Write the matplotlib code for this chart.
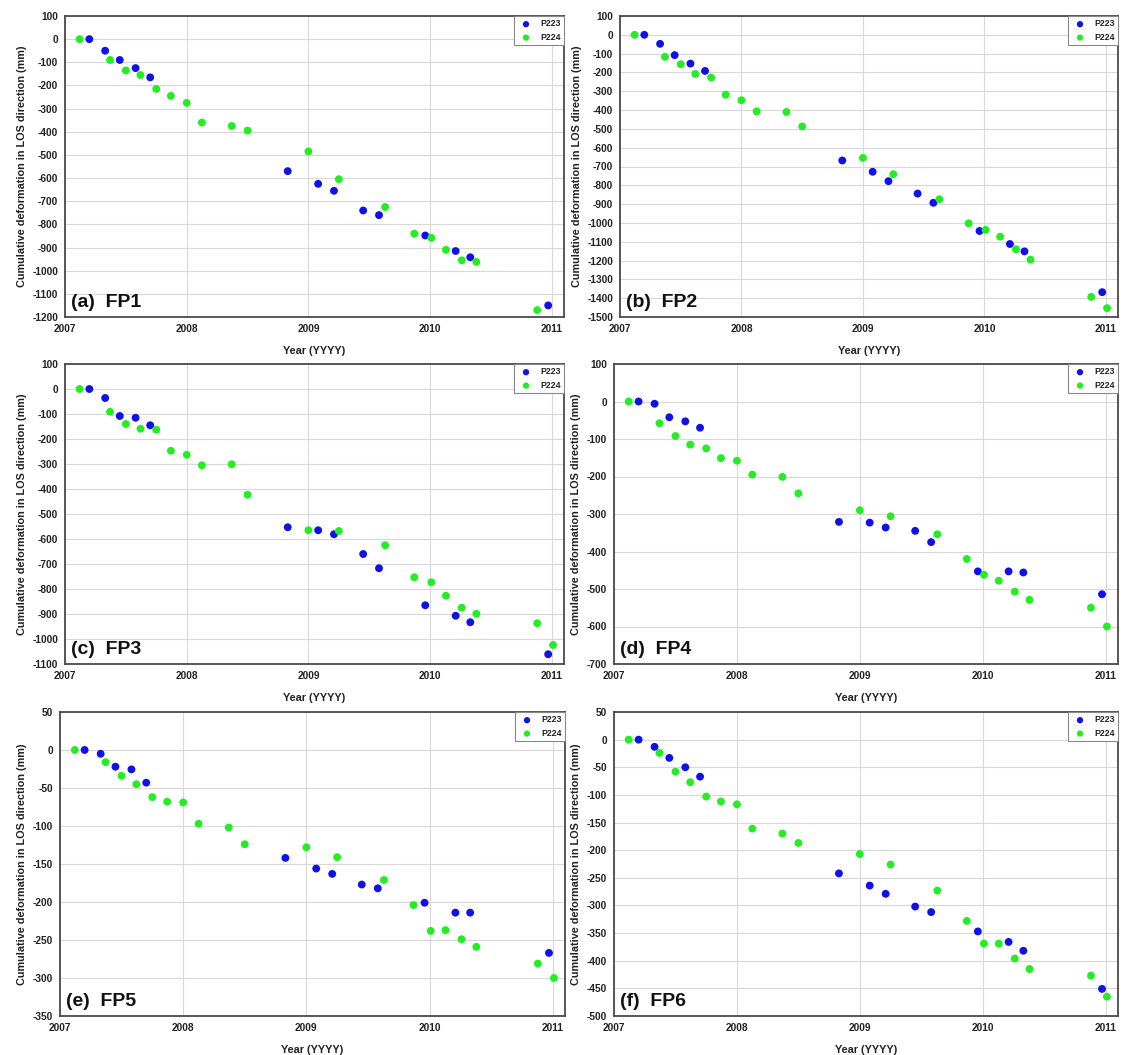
import numpy as np
import matplotlib
matplotlib.use("Agg")
import matplotlib.pyplot as plt

plt.rcParams['font.family'] = ['Liberation Sans', 'DejaVu Sans']
plt.rcParams['axes.unicode_minus'] = False

# Acquisition dates (decimal years)
dates_p223 = [2007.20, 2007.33, 2007.45, 2007.58, 2007.70, 2008.83, 2009.08, 2009.21,
              2009.45, 2009.58, 2009.96, 2010.21, 2010.33, 2010.97]
dates_p224 = [2007.12, 2007.37, 2007.50, 2007.62, 2007.75, 2007.87, 2008.00, 2008.125,
              2008.37, 2008.50, 2009.00, 2009.25, 2009.63, 2009.87, 2010.01, 2010.13,
              2010.26, 2010.38, 2010.88, 2011.01]

# Cumulative deformation (mm)
fp1_p223 = [0, -50, -90, -125, -165, -570, -625, -655, -740, -760, -848, -915, -942, -1150]
fp1_p224 = [0, -90, -135, -155, -215, -245, -275, -360, -375, -395, -485, -605, -725, -840,
            -858, -910, -955, -962, -1170, np.nan]

fp2_p223 = [0, -48, -108, -153, -192, -668, -728, -778, -844, -893, -1043, -1112, -1151, -1368]
fp2_p224 = [0, -117, -156, -208, -227, -318, -348, -407, -410, -487, -654, -741, -874, -1002,
            -1037, -1073, -1140, -1195, -1393, -1453]

fp3_p223 = [0, -36, -108, -115, -145, -553, -565, -581, -660, -717, -865, -907, -933, -1061]
fp3_p224 = [0, -91, -140, -159, -163, -247, -263, -305, -301, -423, -565, -568, -625, -753,
            -773, -827, -875, -899, -937, -1024]

fp4_p223 = [0, -6, -42, -53, -70, -321, -323, -336, -345, -375, -453, -453, -456, -514]
fp4_p224 = [0, -58, -92, -115, -125, -151, -158, -195, -201, -245, -290, -306, -354, -420,
            -462, -478, -507, -529, -550, -600]

fp5_p223 = [0, -5, -22, -25.5, -43, -142, -156, -163, -177, -182, -201, -214, -214, -267]
fp5_p224 = [0, -16, -34, -45, -62, -68, -69, -97, -102, -124, -128, -141, -171, -204,
            -238, -237, -249, -259, -281, -300]

fp6_p223 = [0, -13, -33, -50, -67, -242, -264, -279, -302, -312, -347, -366, -382, -451]
fp6_p224 = [0, -24, -58, -77, -103, -112, -117, -161, -170, -187, -207, -226, -273, -328,
            -369, -369, -396, -415, -427, -465]

panel_labels = ['(a)  FP1', '(b)  FP2', '(c)  FP3', '(d)  FP4', '(e)  FP5', '(f)  FP6']
series_p223 = [fp1_p223, fp2_p223, fp3_p223, fp4_p223, fp5_p223, fp6_p223]
series_p224 = [fp1_p224, fp2_p224, fp3_p224, fp4_p224, fp5_p224, fp6_p224]
ylims = [(-1200, 100), (-1500, 100), (-1100, 100), (-700, 100), (-350, 50), (-500, 50)]
ysteps = [100, 100, 100, 100, 50, 50]
year_ticks = [2007, 2008, 2009, 2010, 2011]
legend_names = ['P223', 'P224']

W, H = 1122, 1055
fig = plt.figure(figsize=(W / 100, H / 100), dpi=100)

# axes boxes in pixels: left, right, top, bottom
boxes = [(65, 564, 16, 317), (620, 1118, 16, 317),
         (65, 564, 364, 664), (614, 1118, 364, 664),
         (60, 565, 712, 1016), (614, 1118, 712, 1016)]

blue = '#1010e8'
green = '#22ee22'
txtc = '#222222'

for i in range(6):
    l, r, t, b = boxes[i]
    ax = fig.add_axes([l / W, 1 - b / H, (r - l) / W, (b - t) / H])
    ax.scatter(dates_p223, series_p223[i], s=32, color=blue, label=legend_names[0], zorder=3,
               edgecolors='none')
    ax.scatter(dates_p224, series_p224[i], s=32, color=green, label=legend_names[1], zorder=3,
               edgecolors='none')
    ax.set_xlim(2007, 2011.1)
    ax.set_ylim(*ylims[i])
    ax.set_xticks(year_ticks)
    ax.set_xticklabels([str(y) for y in year_ticks])
    ax.set_yticks(np.arange(ylims[i][0], ylims[i][1] + 1, ysteps[i]))
    ax.grid(True, color='#d8d8d8', linewidth=0.8)
    ax.set_axisbelow(True)
    for sp in ax.spines.values():
        sp.set_color('#4a4a4a')
        sp.set_linewidth(1.3)
    ax.tick_params(axis='y', length=0, labelsize=7.3, pad=5)
    ax.tick_params(axis='x', length=0, labelsize=7.3, pad=5)
    for lab in ax.get_xticklabels() + ax.get_yticklabels():
        lab.set_fontweight('bold')
        lab.set_color(txtc)
    ax.set_xlabel('Year (YYYY)', fontsize=7.8, fontweight='bold', labelpad=9, color=txtc)
    ax.set_ylabel('Cumulative deformation in LOS direction (mm)', fontsize=7.8,
                  fontweight='bold', labelpad=4, color=txtc)
    ax.text(0.012, 0.02, panel_labels[i], transform=ax.transAxes, fontsize=14,
            fontweight='bold', ha='left', va='bottom', color='#111111')
    leg = ax.legend(loc='upper right', fontsize=6.3, frameon=True, fancybox=False,
                    borderaxespad=0.0, handletextpad=0.6, borderpad=0.4,
                    labelspacing=0.5, markerscale=0.8, framealpha=1)
    leg.get_frame().set_edgecolor('#888888')
    leg.get_frame().set_linewidth(0.8)
    for txt in leg.get_texts():
        txt.set_fontweight('bold')
        txt.set_color(txtc)

fig.savefig('out.png', dpi=100)
